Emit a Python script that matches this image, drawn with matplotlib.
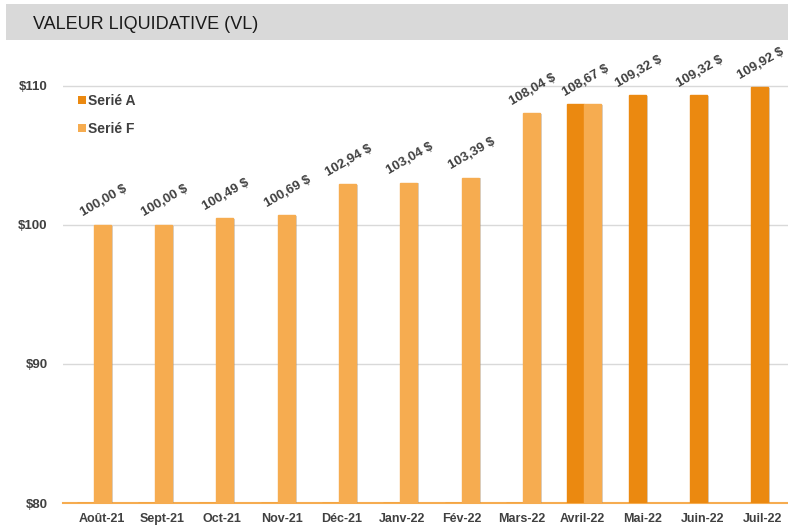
import numpy as np
import matplotlib
matplotlib.use("Agg")
import matplotlib.pyplot as plt
import matplotlib.patheffects as pe
from matplotlib.patches import Patch, Rectangle

plt.rcParams['font.family'] = ['Liberation Sans', 'DejaVu Sans']

mois = ["Août-21", "Sept-21", "Oct-21", "Nov-21", "Déc-21", "Janv-22",
        "Fév-22", "Mars-22", "Avril-22", "Mai-22", "Juin-22", "Juil-22"]
serie_a = [0, 0, 0, 0, 0, 0, 0, 0, 108.67, 109.32, 109.32, 109.92]
serie_f = [100.00, 100.00, 100.49, 100.69, 102.94, 103.04, 103.39, 108.04,
           108.67, 0, 0, 0]
y_ticks = [80, 90, 100, 110]

col_a = "#EB8910"
col_f = "#F6AC50"
gris = "#404040"
base = 80

fig = plt.figure(figsize=(7.88, 5.25), dpi=100)

# bandeau titre
fig.patches.append(Rectangle((6/788, 1-40/525), 1, 36/525, transform=fig.transFigure,
                             facecolor="#d9d9d9", edgecolor="none", zorder=0))
fig.text(33/788, 1-29/525, "VALEUR LIQUIDATIVE (VL)", fontsize=13,
         color="#1a1a1a", va="baseline", ha="left")

ax = fig.add_axes([63/788, 22/525, 736/788, 438/525])
x = np.arange(len(mois))
w = 0.277
a = np.array(serie_a)
f = np.array(serie_f)
shadow = [pe.SimplePatchShadow(offset=(1.5, -0.5), shadow_rgbFace="#888888", alpha=0.35), pe.Normal()]

ba = ax.bar(x - w/2, np.clip(a - base, 0, None), w, bottom=base, color=col_a,
            edgecolor=col_a, linewidth=1, zorder=3, label="Serié A")
bf = ax.bar(x + w/2, np.clip(f - base, 0, None), w, bottom=base, color=col_f,
            edgecolor=col_f, linewidth=1, zorder=3, label="Serié F")
for b in list(ba) + list(bf):
    if b.get_height() > 0:
        b.set_path_effects(shadow)

# étiquettes de valeur
for i in x:
    pos = []
    if a[i] > 0:
        pos.append(i - w/2)
    if f[i] > 0:
        pos.append(i + w/2)
    v = max(a[i], f[i])
    txt = f"{v:.2f}".replace(".", ",") + " $"
    ax.annotate(txt, (np.mean(pos), v), xytext=(1, 4), textcoords="offset points",
                ha="center", va="bottom", rotation=30, fontsize=9.5,
                fontweight="bold", color=gris, zorder=5)

ax.set_xlim(-0.5, len(mois) - 0.5)
ax.set_ylim(80, 111.5)
ax.set_yticks(y_ticks)
ax.set_yticklabels([f"${t}" for t in y_ticks])
ax.set_xticks(np.linspace(0.13, 10.9, len(mois)))
ax.set_xticklabels(mois)
ax.tick_params(axis="both", length=0, labelcolor=gris)
ax.tick_params(axis="y", pad=11, labelsize=9.5)
ax.tick_params(axis="x", pad=7, labelsize=9)
for lab in ax.get_xticklabels() + ax.get_yticklabels():
    lab.set_fontweight("bold")

ax.grid(axis="y", color="#d9d9d9", linewidth=1, zorder=0)
for s in ["top", "right", "left"]:
    ax.spines[s].set_visible(False)
ax.spines["bottom"].set_color(col_f)
ax.spines["bottom"].set_linewidth(1.5)
ax.spines["bottom"].set_zorder(2)

handles = [Patch(facecolor=col_a, label="Serié A"), Patch(facecolor=col_f, label="Serié F")]
leg = fig.legend(handles=handles, loc="upper left", bbox_to_anchor=(78/788, 1-94/525),
                 bbox_transform=fig.transFigure, frameon=False, fontsize=10,
                 handlelength=0.55, handleheight=0.55, handletextpad=0.2,
                 labelspacing=1.0, borderpad=0, borderaxespad=0)
for t in leg.get_texts():
    t.set_color(gris)
    t.set_fontweight("bold")

fig.savefig("out.png", dpi=100)
